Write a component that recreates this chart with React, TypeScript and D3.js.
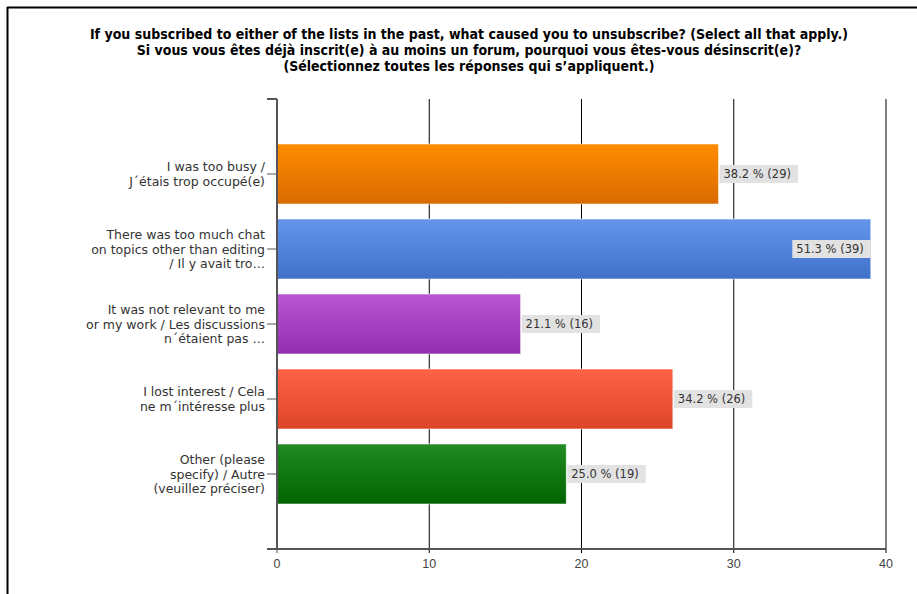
import React from "react";
import * as d3 from "d3";

const titleLines = [
  "If you subscribed to either of the lists in the past, what caused you to unsubscribe? (Select all that apply.)",
  "Si vous vous êtes déjà inscrit(e) à au moins un forum, pourquoi vous êtes-vous désinscrit(e)?",
  "(Sélectionnez toutes les réponses qui s’appliquent.)",
];

const categories = [
  ["I was too busy /", "J´étais trop occupé(e)"],
  ["There was too much chat", "on topics other than editing", "/ Il y avait tro…"],
  ["It was not relevant to me", "or my work / Les discussions", "n´étaient pas …"],
  ["I lost interest / Cela", "ne m´intéresse plus"],
  ["Other (please", "specify) / Autre", "(veuillez préciser)"],
];
const counts = [29, 39, 16, 26, 19];
const percents = [38.2, 51.3, 21.1, 34.2, 25.0];
const xTicks = [0, 10, 20, 30, 40];
const colorsTop = ["#FF8C00", "#6495ED", "#BA55D3", "#FF6347", "#228B22"];
const colorsBottom = ["#D96A00", "#4170C8", "#932DB0", "#DC4428", "#006400"];

const W = 917;
const H = 594;
const plotLeft = 277;
const plotRight = 886;
const plotTop = 99;
const plotBottom = 549;

const labelFontFamily = "'DejaVu Sans', Verdana, sans-serif";
const labelFontSize = 11.5;
const labelFont = `${labelFontSize}px 'DejaVu Sans', Verdana, sans-serif`;
let ctx: CanvasRenderingContext2D | null = null;
function measure(text: string, font: string) {
  if (!ctx) ctx = document.createElement("canvas").getContext("2d");
  if (!ctx) return text.length * 6;
  ctx.font = font;
  return ctx.measureText(text).width;
}

export default function App() {
  const idx = categories.map((_, i) => String(i));
  const x = d3.scaleLinear().domain([0, 40]).range([plotLeft, plotRight]);
  const step = (plotBottom - plotTop) / (categories.length + 1);
  const y = d3
    .scaleBand<string>()
    .domain(idx)
    .range([plotTop + step / 2, plotBottom - step / 2])
    .paddingInner(0.2)
    .paddingOuter(0.1);
  const bw = y.bandwidth();

  return (
    <div style={{ position: "absolute", left: 0, top: 0 }}>
      <svg width={W} height={H} style={{ display: "block", background: "#fff" }}>
        <defs>
          {colorsTop.map((c, i) => (
            <linearGradient key={i} id={`g${i}`} x1="0" y1="0" x2="0" y2="1">
              <stop offset="0" stopColor={c} />
              <stop offset="1" stopColor={colorsBottom[i]} />
            </linearGradient>
          ))}
        </defs>
        <rect x={0} y={0} width={W} height={H} fill="#fff" />
        {/* frame */}
        <line x1={7.5} y1={7} x2={7.5} y2={H} stroke="#000" strokeWidth={2} />
        <line x1={7} y1={7.5} x2={W} y2={7.5} stroke="#000" strokeWidth={2} />

        {/* title */}
        <g fontFamily="'DejaVu Sans Condensed', 'DejaVu Sans', sans-serif" fontWeight="bold" fontSize={14} fill="#000" textAnchor="middle">
          {titleLines.map((t, i) => (
            <text key={i} x={469} y={38.5 + i * 16}>
              {t}
            </text>
          ))}
        </g>

        {/* gridlines */}
        {xTicks.map((t) =>
          t === 0 ? null : (
            <line key={t} x1={x(t)} x2={x(t)} y1={plotTop} y2={plotBottom + 4} stroke="#000" strokeWidth={1} />
          )
        )}
        <line x1={x(0)} x2={x(0)} y1={plotBottom} y2={plotBottom + 4} stroke="#555" strokeWidth={1} />

        {/* bars */}
        {counts.map((v, i) => (
          <rect
            key={i}
            x={x(0)}
            y={y(String(i))!}
            width={x(v) - x(0)}
            height={bw}
            fill={`url(#g${i})`}
            stroke="rgba(255,255,255,0.55)"
            strokeWidth={1}
          />
        ))}

        {/* axes */}
        <line x1={plotLeft} x2={plotLeft} y1={plotTop} y2={plotBottom} stroke="#555" strokeWidth={2} />
        <line x1={plotLeft - 10} x2={plotRight} y1={plotBottom} y2={plotBottom} stroke="#555" strokeWidth={2} />
        <line x1={plotLeft - 10} x2={plotLeft} y1={plotTop} y2={plotTop} stroke="#555" strokeWidth={2} />
        {idx.map((k) => (
          <line key={k} x1={plotLeft - 10} x2={plotLeft} y1={y(k)! + bw / 2} y2={y(k)! + bw / 2} stroke="#555" strokeWidth={1} />
        ))}

        {/* x tick labels */}
        <g fontFamily="'Liberation Sans', Arial, sans-serif" fontSize={12.5} fill="#444" textAnchor="middle">
          {xTicks.map((t) => (
            <text key={t} x={x(t)} y={568}>
              {t}
            </text>
          ))}
        </g>

        {/* category labels */}
        <g fontFamily="'DejaVu Sans', Verdana, sans-serif" fontSize={12.5} fill="#333" textAnchor="end">
          {categories.map((lines, i) => {
            const cy = y(String(i))! + bw / 2;
            const lh = 14.5;
            const start = cy - ((lines.length - 1) * lh) / 2;
            return (
              <text key={i}>
                {lines.map((l, j) => (
                  <tspan key={j} x={265} y={start + j * lh + 4.5}>
                    {l}
                  </tspan>
                ))}
              </text>
            );
          })}
        </g>

        {/* data labels */}
        {counts.map((v, i) => {
          const txt = `${percents[i].toFixed(1)} % (${v})`;
          const tw = measure(txt, labelFont);
          const boxW = tw + 11;
          const end = x(v);
          const inside = end + 1 + boxW > plotRight;
          const bx = inside ? end - boxW : end + 1;
          const cy = y(String(i))! + bw / 2;
          return (
            <g key={i}>
              <rect x={bx} y={cy - 9} width={boxW} height={18} fill="#e2e2e2" />
              <text x={bx + 4} y={cy + 4.2} fontFamily={labelFontFamily} fontSize={labelFontSize} fill="#333">
                {txt}
              </text>
            </g>
          );
        })}
      </svg>
    </div>
  );
}
